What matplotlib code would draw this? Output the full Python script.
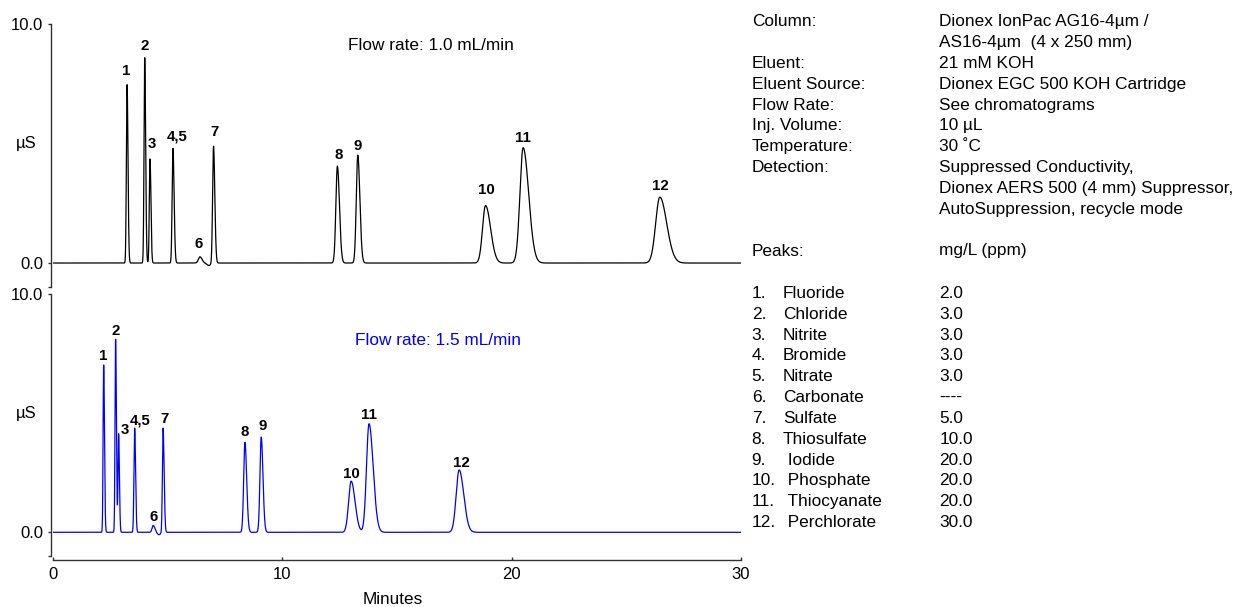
import numpy as np
import matplotlib
matplotlib.use("Agg")
import matplotlib.pyplot as plt
from matplotlib.transforms import blended_transform_factory

plt.rcParams['font.family'] = ['Liberation Sans', 'DejaVu Sans']

# peak table (minutes, µS, sigma left/right in min)
peak_labels = ['1', '2', '3', '4,5', '6', '7', '8', '9', '10', '11', '12']

rt_10 = [3.23, 4.00, 4.23, 5.23, 6.41, 7.00, 12.40, 13.29, 18.86, 20.50, 26.46]
h_10 = [7.47, 8.60, 4.36, 4.80, 0.26, 4.90, 4.06, 4.52, 2.41, 4.83, 2.76]
sl_10 = [0.030, 0.030, 0.030, 0.035, 0.07, 0.040, 0.065, 0.065, 0.13, 0.14, 0.18]
sr_10 = [0.040, 0.040, 0.040, 0.050, 0.09, 0.055, 0.090, 0.090, 0.22, 0.24, 0.30]

rt_15 = [2.21, 2.73, 2.86, 3.56, 4.37, 4.80, 8.37, 9.08, 13.00, 13.78, 17.71]
h_15 = [7.03, 8.11, 4.13, 4.38, 0.29, 4.38, 3.78, 4.00, 2.15, 4.56, 2.62]
sl_15 = [0.025, 0.025, 0.025, 0.030, 0.05, 0.030, 0.055, 0.055, 0.11, 0.11, 0.13]
sr_15 = [0.035, 0.035, 0.035, 0.040, 0.07, 0.045, 0.075, 0.075, 0.17, 0.18, 0.20]

# small baseline dip after carbonate (time, depth, sigma)
dip_10 = (6.80, -0.10, 0.09)
dip_15 = (4.62, -0.10, 0.07)

# label offsets (px right, px above peak top)
lab_off_10 = [(-1, 14), (0, 12), (2, 15), (4, 12), (-1, 13), (1, 14),
              (1, 11), (0, 9), (1, 15), (0, 10), (1, 11)]
lab_off_15 = [(0, 9), (0, 8), (6, 4), (5, 8), (0, 8), (1, 9),
              (0, 10), (1, 11), (0, 7), (0, 9), (2, 7)]

conditions = [
    ("Column:", "Dionex IonPac AG16-4µm /"),
    ("", "AS16-4µm  (4 x 250 mm)"),
    ("Eluent:", "21 mM KOH"),
    ("Eluent Source:", "Dionex EGC 500 KOH Cartridge"),
    ("Flow Rate:", "See chromatograms"),
    ("Inj. Volume:", "10 µL"),
    ("Temperature:", "30 ˚C"),
    ("Detection:", "Suppressed Conductivity,"),
    ("", "Dionex AERS 500 (4 mm) Suppressor,"),
    ("", "AutoSuppression, recycle mode"),
]

peak_names = ['Fluoride', 'Chloride', 'Nitrite', 'Bromide', 'Nitrate', 'Carbonate',
              'Sulfate', 'Thiosulfate', ' Iodide', ' Phosphate', ' Thiocyanate', ' Perchlorate']
peak_conc = ['2.0', '3.0', '3.0', '3.0', '3.0', '----', '5.0', '10.0', '20.0', '20.0', '20.0', '30.0']


def trace(t, rts, hs, sls, srs, dip):
    y = np.zeros_like(t)
    for rt, h, sl, sr in zip(rts, hs, sls, srs):
        s = np.where(t < rt, sl, sr)
        y += h * np.exp(-0.5 * ((t - rt) / s) ** 2)
    y += dip[1] * np.exp(-0.5 * ((t - dip[0]) / dip[2]) ** 2)
    return y


W, H = 1238, 607
fig = plt.figure(figsize=(W / 100, H / 100), dpi=100)

ax1 = fig.add_axes([53 / W, 1 - 286.9 / H, 688 / W, 262.6 / H])
ax2 = fig.add_axes([53 / W, 1 - 556.1 / H, 688 / W, 261.8 / H])

t = np.linspace(0, 30, 12001)
spine_col = '#333333'

for ax, rts, hs, sls, srs, dip, offs, col in [
        (ax1, rt_10, h_10, sl_10, sr_10, dip_10, lab_off_10, 'black'),
        (ax2, rt_15, h_15, sl_15, sr_15, dip_15, lab_off_15, '#0000ff')]:
    ax.plot(t, trace(t, rts, hs, sls, srs, dip), color=col, lw=0.9)
    for lab, rt, h, (dx, dy) in zip(peak_labels, rts, hs, offs):
        ax.annotate(lab, (rt, h), xytext=(dx * 0.72, dy * 0.72), textcoords='offset points',
                    ha='center', va='center', fontsize=10.8, fontweight='bold')
    ax.set_xlim(0, 30)
    ax.set_ylim(-1, 10)
    for side in ['top', 'right']:
        ax.spines[side].set_visible(False)
    ax.spines['left'].set_position(('outward', 1.5))
    ax.spines['left'].set_color(spine_col)
    ax.spines['left'].set_linewidth(1.0)
    ax.set_yticks([-1, 0, 10])
    ax.set_yticklabels(['', '0.0', '10.0'])
    ax.tick_params(axis='y', direction='out', length=2.5, width=1.0, color=spine_col,
                   labelsize=12, pad=3)
    tr = blended_transform_factory(ax.transAxes, ax.transData)
    ax.text((26 - 53) / 688, 5, 'µS', transform=tr, ha='center', va='center', fontsize=12)

ax1.spines['bottom'].set_visible(False)
ax1.set_xticks([])

ax2.spines['bottom'].set_position(('outward', 2.9))
ax2.spines['bottom'].set_color(spine_col)
ax2.spines['bottom'].set_linewidth(1.0)
ax2.set_xticks([0, 10, 20, 30])
ax2.tick_params(axis='x', direction='in', length=2.5, width=1.0, color=spine_col,
                labelsize=12, pad=5)

ax1.text(12.88, 9.13, 'Flow rate: 1.0 mL/min', ha='left', va='center', fontsize=12.4)
ax2.text(13.17, 8.04, 'Flow rate: 1.5 mL/min', ha='left', va='center', fontsize=12.4,
         color='#0000ff')

fig.text(393 / W, 1 - 600 / H, 'Minutes', ha='center', va='center', fontsize=12.3)

# conditions block
for i, (k, v) in enumerate(conditions):
    y = 1 - (21.7 + 20.85 * i) / H
    if k:
        fig.text(751.7 / W, y, k, ha='left', va='center', fontsize=12.4)
    fig.text(939.3 / W, y, v, ha='left', va='center', fontsize=12.4)

fig.text(751.7 / W, 1 - 251 / H, 'Peaks:', ha='left', va='center', fontsize=12.4)
fig.text(939.3 / W, 1 - 251 / H, 'mg/L (ppm)', ha='left', va='center', fontsize=12.4)

for i, (name, conc) in enumerate(zip(peak_names, peak_conc)):
    y = 1 - (293.3 + 20.85 * i) / H
    fig.text(751.7 / W, y, f'{i + 1}.', ha='left', va='center', fontsize=12.4)
    fig.text(782.7 / W, y, name, ha='left', va='center', fontsize=12.4)
    fig.text(939.3 / W, y, conc, ha='left', va='center', fontsize=12.4)

fig.savefig('out.png', dpi=100)
